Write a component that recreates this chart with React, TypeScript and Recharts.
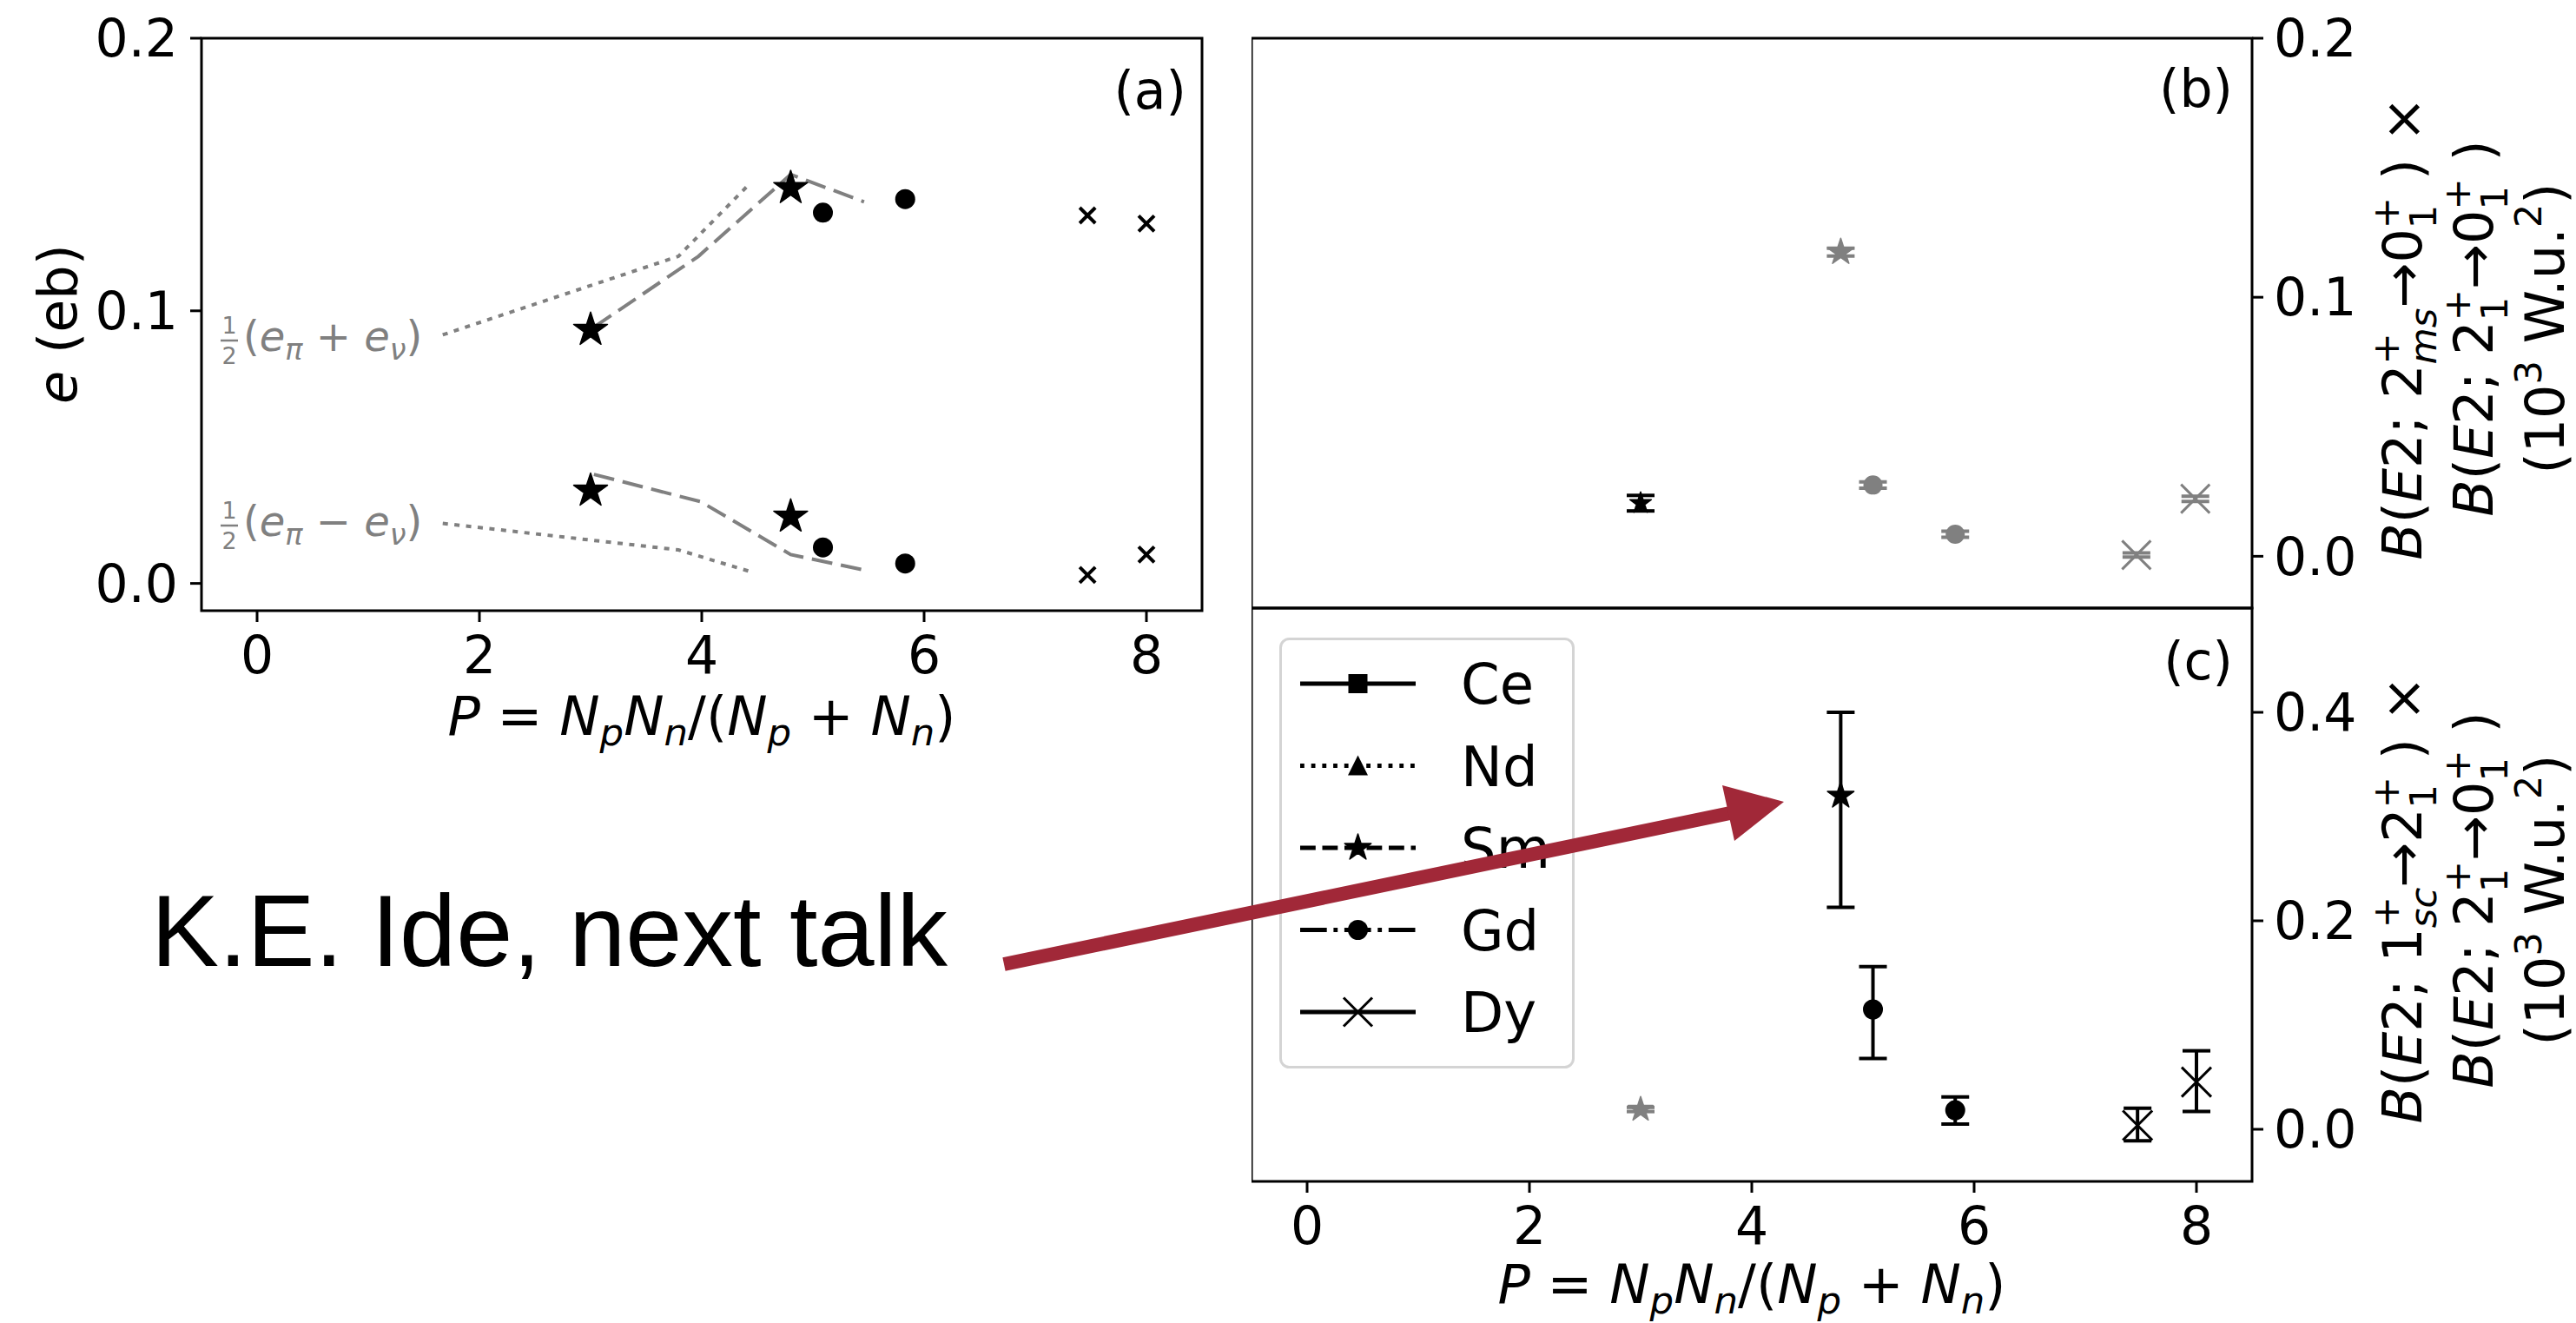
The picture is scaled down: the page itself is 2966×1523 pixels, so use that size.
import React from 'react';
import { ScatterChart, Scatter, XAxis, YAxis, ErrorBar, ReferenceArea, Legend } from 'recharts';

const GRAY = '#808080';
const RED = '#a12838';
const FONT = 'DejaVu Sans';

// ---------- axes ----------
const xTicks = [0, 2, 4, 6, 8];
const xDomain: [number, number] = [-0.5, 8.5];
const aYTicks = [0, 0.1, 0.2];
const aYDomain: [number, number] = [-0.01, 0.2];
const bYTicks = [0, 0.1, 0.2];
const bYDomain: [number, number] = [-0.02, 0.2];
const cYTicks = [0, 0.2, 0.4];
const cYDomain: [number, number] = [-0.05, 0.5];

// ---------- panel (a) ----------
const aSm = [{ x: 3.0, y: 0.093 }, { x: 4.8, y: 0.145 }, { x: 3.0, y: 0.034 }, { x: 4.8, y: 0.0245 }];
const aGd = [{ x: 5.09, y: 0.136 }, { x: 5.83, y: 0.141 }, { x: 5.09, y: 0.0132 }, { x: 5.83, y: 0.0073 }];
const aDy = [{ x: 7.47, y: 0.135 }, { x: 8.0, y: 0.132 }, { x: 7.47, y: 0.0031 }, { x: 8.0, y: 0.0106 }];
const aUpperDotted = [{ x: 1.67, y: 0.0912 }, { x: 3.79, y: 0.12 }, { x: 4.44, y: 0.147 }];
const aUpperDashed = [{ x: 3.03, y: 0.094 }, { x: 3.97, y: 0.12 }, { x: 4.8, y: 0.15 }, { x: 5.46, y: 0.14 }];
const aLowerDotted = [{ x: 1.67, y: 0.022 }, { x: 3.79, y: 0.0123 }, { x: 4.44, y: 0.0043 }];
const aLowerDashed = [{ x: 3.03, y: 0.04 }, { x: 3.99, y: 0.03 }, { x: 4.8, y: 0.0106 }, { x: 5.46, y: 0.0049 }];

// ---------- panel (b) ----------
const bSmBlack = [{ x: 3.0, y: 0.0205, err: 0.003 }];
const bSmGray = [{ x: 4.8, y: 0.1174, err: 0.0015 }];
const bGd = [{ x: 5.09, y: 0.0275, err: 0.0012 }, { x: 5.83, y: 0.0085, err: 0.0012 }];
const bDy = [{ x: 7.46, y: 0.0005, err: 0.0008 }, { x: 7.99, y: 0.0222, err: 0.001 }];

// ---------- panel (c) ----------
const cSmGray = [{ x: 3.0, y: 0.019, err: [0.002, 0.002] }];
const cSm = [{ x: 4.8, y: 0.32, err: [0.107, 0.08] }];
const cGd = [{ x: 5.09, y: 0.115, err: [0.047, 0.041] }, { x: 5.83, y: 0.0183, err: [0.0133, 0.0127] }];
const cDy = [{ x: 7.47, y: 0.0037, err: [0.0147, 0.0166] }, { x: 8.0, y: 0.0453, err: [0.0282, 0.03] }];

const legendNames = ['Ce', 'Nd', 'Sm', 'Gd', 'Dy'];

// ---------- shapes ----------
function starPoints(cx: number, cy: number, R: number) {
  const r = R * 0.381966;
  const pts: string[] = [];
  for (let k = 0; k < 10; k++) {
    const ang = ((-90 + k * 36) * Math.PI) / 180;
    const rad = k % 2 ? r : R;
    pts.push(`${cx + rad * Math.cos(ang)},${cy + rad * Math.sin(ang)}`);
  }
  return pts.join(' ');
}
const Star = ({ cx, cy, R, fill }: any) => <polygon points={starPoints(cx, cy, R)} fill={fill} stroke={fill} strokeWidth={1.5} strokeLinejoin="round" />;
const XMark = ({ cx, cy, h, sw, stroke }: any) => (
  <g stroke={stroke} strokeWidth={sw}>
    <line x1={cx - h} y1={cy - h} x2={cx + h} y2={cy + h} />
    <line x1={cx - h} y1={cy + h} x2={cx + h} y2={cy - h} />
  </g>
);
const Empty = () => <g />;

const starShape = (R: number, fill: string) => (p: any) => <Star cx={p.cx} cy={p.cy} R={R} fill={fill} />;
const circleShape = (r: number, fill: string) => (p: any) => <circle cx={p.cx} cy={p.cy} r={r} fill={fill} />;
const xShape = (h: number, sw: number, stroke: string) => (p: any) => <XMark cx={p.cx} cy={p.cy} h={h} sw={sw} stroke={stroke} />;

const tickStyle = { fontSize: 60, fill: '#000', fontFamily: FONT };
const tickLineStyle = { stroke: '#000', strokeWidth: 3 };
const fmt = (v: number) => v.toFixed(1);

const dottedLine = { stroke: GRAY, strokeWidth: 4, strokeDasharray: '6 7.5' };
const dashedLine = { stroke: GRAY, strokeWidth: 4, strokeDasharray: '24 10' };

// ---------- math text ----------
type Seg = { t: string; it?: boolean; s?: number; lv?: number; dx?: number };
const SUP = -0.42;
const SUBS = 0.28;
const SUB = 0.2;
function MathText({ segs, fs, x, y, anchor = 'start', rotate = false, fill = '#000' }: any) {
  let prev = 0;
  const spans = (segs as Seg[]).map((g, i) => {
    const lv = g.lv ?? 0;
    const dy = (lv - prev) * fs;
    prev = lv;
    return (
      <tspan key={i} fontStyle={g.it ? 'italic' : 'normal'} fontSize={(g.s ?? 1) * fs} dy={dy ? dy : undefined} dx={g.dx ? g.dx * fs : undefined}>
        {g.t}
      </tspan>
    );
  });
  const transform = rotate ? `translate(${x},${y}) rotate(-90)` : `translate(${x},${y})`;
  return (
    <text transform={transform} x={0} y={0} textAnchor={anchor} fontFamily={FONT} fontSize={fs} fill={fill} style={{ whiteSpace: 'pre' }}>
      {spans}
    </text>
  );
}

const xLabelSegs: Seg[] = [
  { t: 'P', it: true }, { t: ' = ' }, { t: 'N', it: true }, { t: 'p', it: true, s: 0.7, lv: SUB }, { t: 'N', it: true },
  { t: 'n', it: true, s: 0.7, lv: SUB }, { t: '/(' }, { t: 'N', it: true }, { t: 'p', it: true, s: 0.7, lv: SUB }, { t: ' + ' },
  { t: 'N', it: true }, { t: 'n', it: true, s: 0.7, lv: SUB }, { t: ')' },
];
const bLabel1: Seg[] = [
  { t: 'B', it: true }, { t: '(' }, { t: 'E', it: true }, { t: '2; 2' }, { t: '+', s: 0.7, lv: SUP },
  { t: 'ms', it: true, s: 0.7, lv: SUBS, dx: -0.587 }, { t: '→' }, { t: '0' }, { t: '+', s: 0.7, lv: SUP },
  { t: '1', s: 0.7, lv: SUBS, dx: -0.587 }, { t: ' ) ×', dx: 0.142 },
];
const ratioLabel: Seg[] = [
  { t: 'B', it: true }, { t: '(' }, { t: 'E', it: true }, { t: '2; 2' }, { t: '+', s: 0.7, lv: SUP },
  { t: '1', s: 0.7, lv: SUBS, dx: -0.587 }, { t: '→', dx: 0.142 }, { t: '0' }, { t: '+', s: 0.7, lv: SUP },
  { t: '1', s: 0.7, lv: SUBS, dx: -0.587 }, { t: ' )', dx: 0.142 },
];
const unitLabel: Seg[] = [{ t: '(10' }, { t: '3', s: 0.7, lv: SUP }, { t: ' W.u.' }, { t: '2', s: 0.7, lv: SUP }, { t: ')' }];
const cLabel1: Seg[] = [
  { t: 'B', it: true }, { t: '(' }, { t: 'E', it: true }, { t: '2; 1' }, { t: '+', s: 0.7, lv: SUP },
  { t: 'sc', it: true, s: 0.7, lv: SUBS, dx: -0.587 }, { t: '→' }, { t: '2' }, { t: '+', s: 0.7, lv: SUP },
  { t: '1', s: 0.7, lv: SUBS, dx: -0.587 }, { t: ' ) ×', dx: 0.142 },
];
const plusAnn: Seg[] = [{ t: '(' }, { t: 'e', it: true }, { t: 'π', it: true, s: 0.7, lv: SUB }, { t: ' + ' }, { t: 'e', it: true }, { t: 'ν', it: true, s: 0.7, lv: SUB }, { t: ')' }];
const minusAnn: Seg[] = [{ t: '(' }, { t: 'e', it: true }, { t: 'π', it: true, s: 0.7, lv: SUB }, { t: ' − ' }, { t: 'e', it: true }, { t: 'ν', it: true, s: 0.7, lv: SUB }, { t: ')' }];

const Half = ({ x, base }: any) => (
  <g fill={GRAY} fontFamily={FONT} fontSize={27} textAnchor="middle">
    <text x={x} y={base - 20}>1</text>
    <line x1={x - 10} x2={x + 10} y1={base - 12} y2={base - 12} stroke={GRAY} strokeWidth={2.5} />
    <text x={x} y={base + 15}>2</text>
  </g>
);

// ---------- legend ----------
const legendStyle: Record<string, { dash?: string }> = {
  Ce: {}, Nd: { dash: '4.8 7.9' }, Sm: { dash: '17.8 7.7' }, Gd: { dash: '30.7 7.7 4.8 7.7' }, Dy: {},
};
function LegendMarker({ name, cx, cy }: any) {
  if (name === 'Ce') return <rect x={cx - 11} y={cy - 11} width={22} height={22} fill="#000" />;
  if (name === 'Nd') return <polygon points={`${cx},${cy - 12} ${cx - 11.5},${cy + 11} ${cx + 11.5},${cy + 11}`} fill="#000" />;
  if (name === 'Sm') return <Star cx={cx} cy={cy} R={16} fill="#000" />;
  if (name === 'Gd') return <circle cx={cx} cy={cy} r={11.5} fill="#000" />;
  return <XMark cx={cx} cy={cy} h={16.5} sw={3} stroke="#000" />;
}
const LegendBox = () => (
  <svg width={342} height={498} style={{ display: 'block' }}>
    <rect x={1.5} y={1.5} width={337} height={493} rx={10} ry={10} fill="#fff" fillOpacity={0.85} stroke="#d4d4d4" strokeWidth={3} />
    {legendNames.map((n, i) => {
      const cy = 53 + i * 94.5;
      return (
        <g key={n}>
          <line x1={24} x2={157} y1={cy} y2={cy} stroke="#000" strokeWidth={4.8} strokeDasharray={legendStyle[n].dash} />
          <LegendMarker name={n} cx={90.5} cy={cy} />
          <text x={209} y={cy + 23} fontFamily={FONT} fontSize={64} fill="#000">{n}</text>
        </g>
      );
    })}
  </svg>
);

const errStroke = 4;

export default function App() {
  return (
    <div style={{ position: 'absolute', left: 0, top: 0, width: 2966, height: 1523, background: '#fff', overflow: 'hidden' }}>
      {/* panel (a) */}
      <div style={{ position: 'absolute', left: 0, top: 0 }}>
        <ScatterChart width={1400} height={900} margin={{ top: 44, right: 16, bottom: 0, left: 0 }}>
          <XAxis type="number" dataKey="x" domain={xDomain} ticks={xTicks} interval={0} allowDataOverflow height={197} tickSize={13} tickMargin={16} tick={tickStyle} tickLine={tickLineStyle} axisLine={false} />
          <YAxis type="number" dataKey="y" domain={aYDomain} ticks={aYTicks} interval={0} allowDataOverflow width={232} tickSize={13} tickMargin={14} tick={tickStyle} tickLine={tickLineStyle} axisLine={false} tickFormatter={fmt} />
          <ReferenceArea x1={xDomain[0]} x2={xDomain[1]} y1={aYDomain[0]} y2={aYDomain[1]} fill="none" stroke="#000" strokeWidth={3} ifOverflow="visible" />
          <Scatter data={aUpperDotted} line={dottedLine} shape={Empty} isAnimationActive={false} />
          <Scatter data={aLowerDotted} line={dottedLine} shape={Empty} isAnimationActive={false} />
          <Scatter data={aUpperDashed} line={dashedLine} shape={Empty} isAnimationActive={false} />
          <Scatter data={aLowerDashed} line={dashedLine} shape={Empty} isAnimationActive={false} />
          <Scatter name="Sm" data={aSm} shape={starShape(20.5, '#000')} isAnimationActive={false} />
          <Scatter name="Gd" data={aGd} shape={circleShape(11.5, '#000')} isAnimationActive={false} />
          <Scatter name="Dy" data={aDy} shape={xShape(9, 4, '#000')} isAnimationActive={false} />
        </ScatterChart>
      </div>

      {/* panel (b) */}
      <div style={{ position: 'absolute', left: 1441, top: 0 }}>
        <ScatterChart width={1525} height={712} margin={{ top: 44, right: 0, bottom: 12, left: 0 }}>
          <XAxis type="number" dataKey="x" domain={xDomain} ticks={xTicks} allowDataOverflow hide />
          <YAxis type="number" dataKey="y" orientation="right" domain={bYDomain} ticks={bYTicks} interval={0} allowDataOverflow width={373} tickSize={13} tickMargin={12} tick={tickStyle} tickLine={tickLineStyle} axisLine={false} tickFormatter={fmt} />
          <ReferenceArea x1={xDomain[0]} x2={xDomain[1]} y1={bYDomain[0]} y2={bYDomain[1]} fill="none" stroke="#000" strokeWidth={3} ifOverflow="visible" />
          <Scatter data={bSmBlack} shape={starShape(13, '#000')} isAnimationActive={false}>
            <ErrorBar dataKey="err" direction="y" width={16} stroke="#000" strokeWidth={errStroke} isAnimationActive={false} />
          </Scatter>
          <Scatter data={bSmGray} shape={starShape(16, GRAY)} isAnimationActive={false}>
            <ErrorBar dataKey="err" direction="y" width={16} stroke={GRAY} strokeWidth={errStroke} isAnimationActive={false} />
          </Scatter>
          <Scatter data={bGd} shape={circleShape(11, GRAY)} isAnimationActive={false}>
            <ErrorBar dataKey="err" direction="y" width={16} stroke={GRAY} strokeWidth={errStroke} isAnimationActive={false} />
          </Scatter>
          <Scatter data={bDy} shape={xShape(16.5, 3, GRAY)} isAnimationActive={false}>
            <ErrorBar dataKey="err" direction="y" width={16} stroke={GRAY} strokeWidth={errStroke} isAnimationActive={false} />
          </Scatter>
        </ScatterChart>
      </div>

      {/* panel (c) */}
      <div style={{ position: 'absolute', left: 1441, top: 690 }}>
        <ScatterChart width={1525} height={833} margin={{ top: 10, right: 0, bottom: 0, left: 0 }}>
          <XAxis type="number" dataKey="x" domain={xDomain} ticks={xTicks} interval={0} allowDataOverflow height={163} tickSize={13} tickMargin={16} tick={tickStyle} tickLine={tickLineStyle} axisLine={false} />
          <YAxis type="number" dataKey="y" orientation="right" domain={cYDomain} ticks={cYTicks} interval={0} allowDataOverflow width={373} tickSize={13} tickMargin={12} tick={tickStyle} tickLine={tickLineStyle} axisLine={false} tickFormatter={fmt} />
          <ReferenceArea x1={xDomain[0]} x2={xDomain[1]} y1={cYDomain[0]} y2={cYDomain[1]} fill="none" stroke="#000" strokeWidth={3} ifOverflow="visible" />
          <Legend layout="horizontal" verticalAlign="middle" align="center" content={() => <LegendBox />} wrapperStyle={{ left: 32, top: 44, width: 342, height: 498 }} />
          <Scatter name="Sm" data={cSmGray} shape={starShape(15, GRAY)} isAnimationActive={false}>
            <ErrorBar dataKey="err" direction="y" width={16} stroke={GRAY} strokeWidth={errStroke} isAnimationActive={false} />
          </Scatter>
          <Scatter name="Sm" data={cSm} shape={starShape(16, '#000')} isAnimationActive={false}>
            <ErrorBar dataKey="err" direction="y" width={16} stroke="#000" strokeWidth={errStroke} isAnimationActive={false} />
          </Scatter>
          <Scatter name="Gd" data={cGd} shape={circleShape(11.5, '#000')} isAnimationActive={false}>
            <ErrorBar dataKey="err" direction="y" width={16} stroke="#000" strokeWidth={errStroke} isAnimationActive={false} />
          </Scatter>
          <Scatter name="Dy" data={cDy} shape={xShape(17, 3, '#000')} isAnimationActive={false}>
            <ErrorBar dataKey="err" direction="y" width={16} stroke="#000" strokeWidth={errStroke} isAnimationActive={false} />
          </Scatter>
        </ScatterChart>
      </div>

      {/* overlay: labels, annotations, arrow */}
      <svg width={2966} height={1523} style={{ position: 'absolute', left: 0, top: 0, pointerEvents: 'none' }}>
        <MathText segs={[{ t: 'e', it: true }, { t: ' (eb)' }]} fs={62} x={88} y={373} anchor="middle" rotate />
        <MathText segs={xLabelSegs} fs={62} x={808} y={846} anchor="middle" />
        <MathText segs={xLabelSegs} fs={62} x={2017} y={1500} anchor="middle" />

        <MathText segs={bLabel1} fs={62} x={2788} y={378} anchor="middle" rotate />
        <MathText segs={ratioLabel} fs={62} x={2870} y={378} anchor="middle" rotate />
        <MathText segs={unitLabel} fs={62} x={2952} y={378} anchor="middle" rotate />
        <MathText segs={cLabel1} fs={62} x={2788} y={1036} anchor="middle" rotate />
        <MathText segs={ratioLabel} fs={62} x={2870} y={1036} anchor="middle" rotate />
        <MathText segs={unitLabel} fs={62} x={2952} y={1036} anchor="middle" rotate />

        <text x={1366} y={125} textAnchor="end" fontFamily={FONT} fontSize={60}>(a)</text>
        <text x={2571} y={123} textAnchor="end" fontFamily={FONT} fontSize={60}>(b)</text>
        <text x={2571} y={782} textAnchor="end" fontFamily={FONT} fontSize={60}>(c)</text>

        <Half x={264} base={404} />
        <MathText segs={plusAnn} fs={48} x={280} y={404} fill={GRAY} />
        <Half x={264} base={617} />
        <MathText segs={minusAnn} fs={48} x={280} y={617} fill={GRAY} />

        <text x={174} y={1112} fontFamily="Liberation Sans" fontSize={117} fill="#000">K.E. Ide, next talk</text>
        <line x1={1156} y1={1110} x2={1992} y2={936} stroke={RED} strokeWidth={16} />
        <polygon points="2054,923 1997,968 1983,904" fill={RED} />
      </svg>
    </div>
  );
}
